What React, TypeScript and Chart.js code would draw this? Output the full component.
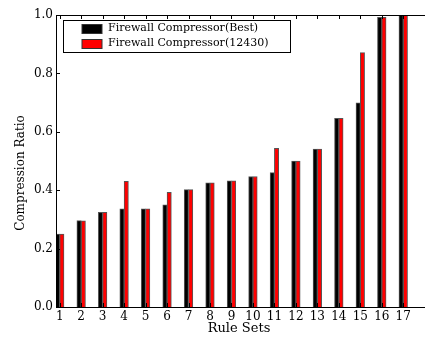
import React, { useEffect, useRef } from "react";
import { Chart, registerables } from "chart.js";

Chart.register(...registerables);

const categories = [1, 2, 3, 4, 5, 6, 7, 8, 9, 10, 11, 12, 13, 14, 15, 16, 17];
const bestValues = [0.25, 0.296, 0.324, 0.336, 0.336, 0.35, 0.402, 0.425, 0.432, 0.447, 0.46, 0.5, 0.541, 0.646, 0.699, 0.992, 1.0];
const fixedValues = [0.25, 0.295, 0.324, 0.43, 0.336, 0.393, 0.402, 0.425, 0.432, 0.447, 0.543, 0.5, 0.541, 0.646, 0.871, 0.992, 1.0];
const yTicks = [0, 0.2, 0.4, 0.6, 0.8, 1.0];
const seriesNames = ["Firewall Compressor(Best)", "Firewall Compressor(12430)"];
const seriesColors = ["#000000", "#ff0000"];
const xTitle = "Rule Sets";
const yTitle = "Compression Ratio";

const FONT = "'DejaVu Serif', serif";

const framePlugin = {
  id: "frameTicks",
  afterDatasetsDraw(chart: any) {
    const { ctx, chartArea } = chart;
    const { left, top, bottom } = chartArea;
    const xs = chart.scales.x;
    const ys = chart.scales.y;
    const L = Math.round(left) + 0.5;
    const T = Math.round(top) + 0.5;
    const B = Math.round(bottom) + 0.5;
    const R = 440;
    ctx.save();
    ctx.strokeStyle = "#000";
    ctx.lineWidth = 1;
    ctx.beginPath();
    for (const v of yTicks) {
      const y = Math.round(ys.getPixelForValue(v)) + 0.5;
      ctx.moveTo(left, y);
      ctx.lineTo(left + 4, y);
    }
    for (const c of categories) {
      const x = Math.round(xs.getPixelForValue(c)) + 0.5;
      ctx.moveTo(x, top);
      ctx.lineTo(x, top + 4);
      ctx.moveTo(x, bottom);
      ctx.lineTo(x, bottom - 4);
    }
    // frame: top, left, bottom (right edge lies beyond the visible area)
    ctx.moveTo(R, T);
    ctx.lineTo(L, T);
    ctx.lineTo(L, B);
    ctx.lineTo(R, B);
    ctx.stroke();

    // axis titles
    ctx.fillStyle = "#000";
    ctx.font = "13px " + FONT;
    ctx.textAlign = "center";
    ctx.textBaseline = "middle";
    ctx.fillText(xTitle, (left + 422) / 2, 329);
    ctx.save();
    ctx.translate(21, 173);
    ctx.rotate(-Math.PI / 2);
    ctx.font = "12px " + FONT;
    ctx.fillText(yTitle, 0, 0);
    ctx.restore();

    // legend
    const lx = 63.5, ly = 20.5, lw = 227, lh = 32;
    ctx.fillStyle = "#fff";
    ctx.fillRect(lx, ly, lw, lh);
    ctx.strokeRect(lx, ly, lw, lh);
    ctx.font = "11px " + FONT;
    ctx.textBaseline = "middle";
    ctx.textAlign = "left";
    seriesNames.forEach((name, i) => {
      const cy = 28.5 + i * 15;
      ctx.fillStyle = seriesColors[i];
      ctx.fillRect(82, cy - 4, 20, 9);
      ctx.strokeStyle = "#333";
      ctx.strokeRect(82, cy - 4, 20, 9);
      ctx.fillStyle = "#000";
      ctx.fillText(name, 108, cy);
    });
    ctx.restore();
  },
};

export default function App() {
  const ref = useRef<HTMLCanvasElement>(null);
  useEffect(() => {
    if (!ref.current) return;
    const chart = new Chart(ref.current, {
      type: "bar",
      data: {
        datasets: [
          {
            label: seriesNames[0],
            data: categories.map((c, i) => ({ x: c, y: bestValues[i] })),
            backgroundColor: seriesColors[0],
            borderColor: "#555",
            borderWidth: 1,
            barThickness: 4.3,
          },
          {
            label: seriesNames[1],
            data: categories.map((c, i) => ({ x: c, y: fixedValues[i] })),
            backgroundColor: seriesColors[1],
            borderColor: "#555",
            borderWidth: 1,
            barThickness: 4.3,
          },
        ],
      },
      options: {
        responsive: false,
        maintainAspectRatio: false,
        animation: false,
        devicePixelRatio: 1,
        layout: { padding: { left: 0, top: 15, right: 14, bottom: 0 } },
        plugins: { legend: { display: false }, tooltip: { enabled: false } },
        scales: {
          x: {
            type: "linear",
            offset: false,
            min: 0.828,
            max: 18.06,
            grid: { display: false, drawTicks: false, offset: false },
            border: { display: false },
            afterBuildTicks: (s: any) => {
              s.ticks = categories.map((c) => ({ value: c }));
            },
            afterFit: (s: any) => {
              s.height = 32;
              s.paddingLeft = 0;
              s.paddingRight = 0;
            },
            ticks: {
              autoSkip: false,
              maxRotation: 0,
              padding: 3,
              color: "#000",
              font: { family: FONT, size: 12 },
              callback: (v: any) => String(v),
            },
          },
          y: {
            min: 0,
            max: 1,
            grid: { display: false, drawTicks: false },
            border: { display: false },
            afterBuildTicks: (s: any) => {
              s.ticks = yTicks.map((v) => ({ value: v }));
            },
            afterFit: (s: any) => {
              s.width = 56;
              s.paddingTop = 0;
              s.paddingBottom = 0;
            },
            ticks: {
              padding: 3,
              color: "#000",
              font: { family: FONT, size: 12 },
              callback: (v: any) => Number(v).toFixed(1),
            },
          },
        },
      },
      plugins: [framePlugin],
    });
    return () => chart.destroy();
  }, []);
  return (
    <div style={{ position: "fixed", left: 0, top: 0, width: 425, height: 339, overflow: "hidden", background: "#fff" }}>
      <div style={{ position: "absolute", left: 0, top: 0, width: 440, height: 339 }}>
        <canvas ref={ref} width={440} height={339} style={{ display: "block", width: 440, height: 339 }} />
      </div>
    </div>
  );
}
